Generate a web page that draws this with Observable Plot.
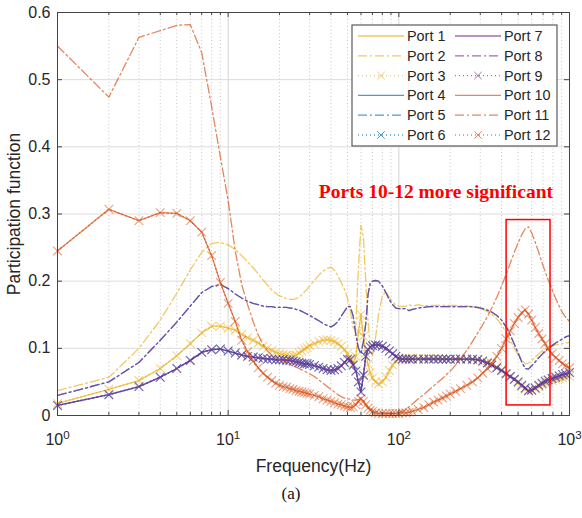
<!DOCTYPE html>
<html><head><meta charset="utf-8">
<script src="https://cdn.jsdelivr.net/npm/d3@7"></script>
<script src="https://cdn.jsdelivr.net/npm/@observablehq/plot@0.6"></script>
<style>
body{margin:0;background:#fff;}
#chart{width:582px;height:480px;}
#caption{width:582px;text-align:center;font-family:"Liberation Serif","Times New Roman",serif;font-size:17px;color:#111;margin-top:4px;}
</style></head><body>
<div id="chart"></div><div id="caption">(a)</div>
<script>
// ---------- data ----------
const freq = [
  1,2,3,4,5,6,7,8,9,10,
  11,12,13,14,15,16,17,18,19,20,
  21,22,23,24,25,26,27,28,29,30,
  32,34,36,38,40,42,44,46,48,50,
  52,54,56,58,60,62,64,66,68,70,
  73,76,80,84,88,92,96,100,105,110,
  115,120,130,140,150,160,170,180,190,200,
  215,230,250,270,290,310,330,350,375,400,
  425,450,475,500,525,550,575,600,630,660,
  690,720,750,790,830,870,910,950,1000];

// Port 1 / Port 3 (yellow, solid and crosses)
const yellowSolid = [
  0.018,0.039,0.052,0.070,0.089,0.107,0.123,0.133,0.133,0.130,
  0.127,0.121,0.116,0.112,0.108,0.103,0.100,0.097,0.094,0.092,
  0.091,0.090,0.089,0.089,0.090,0.093,0.096,0.099,0.101,0.104,
  0.107,0.110,0.112,0.113,0.112,0.110,0.107,0.103,0.098,0.092,
  0.085,0.077,0.088,0.125,0.150,0.118,0.093,0.076,0.064,0.056,
  0.050,0.047,0.050,0.057,0.067,0.075,0.081,0.084,0.085,0.085,
  0.085,0.085,0.085,0.085,0.085,0.085,0.085,0.084,0.084,0.084,
  0.084,0.084,0.084,0.083,0.083,0.081,0.079,0.076,0.072,0.068,
  0.063,0.058,0.053,0.048,0.043,0.039,0.036,0.037,0.040,0.043,
  0.046,0.048,0.050,0.052,0.054,0.055,0.056,0.057,0.058];

// Port 2 (yellow, dash-dot)
const yellowDashDot = [
  0.037,0.057,0.100,0.142,0.182,0.217,0.243,0.256,0.258,0.254,
  0.247,0.238,0.229,0.220,0.211,0.202,0.194,0.187,0.182,0.178,
  0.176,0.174,0.173,0.173,0.174,0.176,0.180,0.184,0.188,0.193,
  0.201,0.209,0.215,0.219,0.221,0.216,0.208,0.198,0.188,0.175,
  0.155,0.130,0.135,0.220,0.283,0.265,0.200,0.140,0.100,0.088,
  0.115,0.150,0.178,0.184,0.176,0.168,0.165,0.163,0.162,0.163,
  0.165,0.163,0.165,0.163,0.164,0.164,0.164,0.164,0.164,0.164,
  0.164,0.163,0.163,0.162,0.160,0.158,0.155,0.151,0.144,0.135,
  0.124,0.112,0.100,0.090,0.082,0.077,0.078,0.082,0.087,0.092,
  0.096,0.099,0.101,0.103,0.105,0.106,0.107,0.108,0.109];

// Ports 4, 6, 7, 9 (blue / purple, solid and crosses)
const purpleSolid = [
  0.015,0.031,0.043,0.057,0.070,0.082,0.094,0.098,0.099,0.096,
  0.093,0.090,0.088,0.087,0.086,0.085,0.084,0.084,0.083,0.083,
  0.083,0.082,0.082,0.081,0.080,0.079,0.078,0.077,0.077,0.076,
  0.074,0.072,0.070,0.068,0.067,0.068,0.070,0.074,0.079,0.084,
  0.083,0.075,0.066,0.050,0.035,0.060,0.088,0.098,0.102,0.104,
  0.105,0.105,0.103,0.100,0.096,0.092,0.088,0.085,0.084,0.084,
  0.084,0.084,0.084,0.084,0.084,0.084,0.084,0.084,0.084,0.084,
  0.084,0.084,0.084,0.084,0.083,0.081,0.078,0.075,0.071,0.067,
  0.062,0.058,0.054,0.050,0.045,0.041,0.037,0.038,0.041,0.045,
  0.048,0.051,0.053,0.055,0.057,0.059,0.061,0.062,0.064];

// Ports 5, 8 (blue / purple, dash-dot)
const purpleDashDot = [
  0.030,0.050,0.079,0.112,0.139,0.163,0.183,0.192,0.195,0.189,
  0.181,0.175,0.170,0.167,0.165,0.163,0.162,0.162,0.161,0.161,
  0.161,0.161,0.160,0.160,0.158,0.157,0.155,0.153,0.151,0.149,
  0.145,0.141,0.137,0.134,0.132,0.135,0.140,0.148,0.155,0.162,
  0.162,0.148,0.120,0.100,0.092,0.110,0.137,0.180,0.197,0.200,
  0.201,0.200,0.193,0.183,0.172,0.165,0.160,0.159,0.159,0.159,
  0.156,0.158,0.160,0.161,0.162,0.162,0.162,0.162,0.162,0.162,
  0.162,0.162,0.162,0.162,0.161,0.159,0.157,0.154,0.149,0.142,
  0.132,0.120,0.106,0.093,0.080,0.070,0.069,0.074,0.080,0.086,
  0.091,0.096,0.100,0.104,0.108,0.111,0.114,0.117,0.119];

// Ports 10 / 12 (orange, solid and crosses)
const orangeSolid = [
  0.245,0.307,0.290,0.302,0.301,0.290,0.273,0.238,0.198,0.167,
  0.140,0.112,0.095,0.081,0.071,0.063,0.057,0.052,0.048,0.045,
  0.043,0.042,0.040,0.039,0.037,0.036,0.035,0.034,0.033,0.032,
  0.030,0.028,0.025,0.023,0.021,0.019,0.017,0.016,0.014,0.013,
  0.012,0.013,0.016,0.021,0.025,0.021,0.016,0.011,0.008,0.006,
  0.004,0.003,0.003,0.003,0.003,0.003,0.003,0.003,0.004,0.004,
  0.005,0.006,0.009,0.012,0.016,0.020,0.023,0.026,0.029,0.032,
  0.036,0.040,0.045,0.050,0.056,0.063,0.070,0.078,0.088,0.100,
  0.114,0.126,0.137,0.146,0.153,0.157,0.151,0.142,0.131,0.122,
  0.114,0.107,0.099,0.092,0.086,0.082,0.077,0.074,0.071];

// Port 11 (orange, dash-dot)
const orangeDashDot = [
  0.550,0.474,0.563,0.573,0.581,0.582,0.540,0.460,0.385,0.320,
  0.245,0.195,0.165,0.140,0.120,0.106,0.096,0.090,0.086,0.083,
  0.080,0.078,0.076,0.074,0.072,0.070,0.068,0.066,0.064,0.062,
  0.058,0.053,0.048,0.043,0.039,0.035,0.031,0.028,0.026,0.025,
  0.024,0.023,0.023,0.024,0.026,0.022,0.017,0.013,0.010,0.008,
  0.006,0.005,0.004,0.003,0.003,0.003,0.003,0.004,0.006,0.009,
  0.013,0.017,0.025,0.031,0.038,0.044,0.050,0.055,0.061,0.066,
  0.075,0.085,0.097,0.110,0.123,0.135,0.147,0.160,0.176,0.193,
  0.210,0.227,0.243,0.257,0.269,0.278,0.281,0.272,0.258,0.243,
  0.228,0.214,0.202,0.188,0.174,0.163,0.153,0.146,0.140];

const portNames = ["Port 1","Port 2","Port 3","Port 4","Port 5","Port 6",
                   "Port 7","Port 8","Port 9","Port 10","Port 11","Port 12"];
const portValues = [yellowSolid, yellowDashDot, yellowSolid,
                    purpleSolid, purpleDashDot, purpleSolid,
                    purpleSolid, purpleDashDot, purpleSolid,
                    orangeSolid, orangeDashDot, orangeSolid];
const yTicks = [0, 0.1, 0.2, 0.3, 0.4, 0.5, 0.6];
const xTicks = [1, 10, 100, 1000];
const xTickExponents = ["0", "1", "2", "3"];
const minorMultipliers = [2, 3, 4, 5, 6, 7, 8, 9];
const annotation = [{f: 165, v: 0.333, label: "Ports 10-12 more significant"}];
const highlight = [{f1: 428, f2: 774, v1: 0.015, v2: 0.291}];

// ---------- styles ----------
const groupColors = ["#EDB120", "#0072BD", "#7E2F8E", "#D95319"];
const kinds = ["solid", "dashdot", "cross"];
const dashFor = {solid: null, dashdot: "9,3,2,3", cross: "1,3"};
const lineOpacity = 0.7;

const rows = portNames.flatMap((name, i) =>
  freq.map((f, j) => ({port: name, idx: i, f, v: portValues[i][j]})));

const minorX = xTicks.slice(0, -1).flatMap(d => minorMultipliers.map(m => m * d));

const FW = 512, FH = 403;
const marks = [
  Plot.ruleX(minorX, {stroke: "#b8b8b8", strokeDasharray: "1,2.5", strokeWidth: 0.8}),
  Plot.ruleX(xTicks.slice(1, -1), {stroke: "#d4d4d4"}),
  Plot.ruleY(yTicks.slice(1, -1), {stroke: "#dcdcdc"})
];
portNames.forEach((name, i) => {
  const color = groupColors[Math.floor(i / 3)];
  const kind = kinds[i % 3];
  const data = rows.filter(d => d.idx === i);
  marks.push(Plot.line(data, {x: "f", y: "v", stroke: color, strokeWidth: 1.3,
    strokeOpacity: lineOpacity, strokeDasharray: dashFor[kind]}));
  if (kind === "cross") {
    marks.push(Plot.dot(data, {x: "f", y: "v", symbol: "times", r: 4,
      stroke: color, strokeOpacity: 0.55, strokeWidth: 1.1}));
  }
});
marks.push(
  Plot.rect(highlight, {x1: "f1", x2: "f2", y1: "v1", y2: "v2", fill: "none", stroke: "#ff0000", strokeWidth: 1.5}),
  Plot.text(annotation, {x: "f", y: "v", text: "label", fill: "#ff0000", fontWeight: "bold",
    fontFamily: "Liberation Serif, Times New Roman, serif", fontSize: 19.5}),
  // inward ticks
  Plot.ruleX(xTicks, {insetTop: FH - 5, stroke: "#444"}),
  Plot.ruleX(xTicks, {insetBottom: FH - 5, stroke: "#444"}),
  Plot.ruleX(minorX, {insetTop: FH - 3, stroke: "#444"}),
  Plot.ruleX(minorX, {insetBottom: FH - 3, stroke: "#444"}),
  Plot.ruleY(yTicks, {insetRight: FW - 5, stroke: "#444"}),
  Plot.ruleY(yTicks, {insetLeft: FW - 5, stroke: "#444"}),
  Plot.frame({stroke: "#444", strokeWidth: 1}),
  Plot.axisX({ticks: xTicks, tickSize: 0, tickPadding: 18, fontSize: 16, label: null,
    tickFormat: d => "10^" + xTickExponents[xTicks.indexOf(d)]}),
  Plot.axisY({ticks: yTicks, tickSize: 0, tickPadding: 7, fontSize: 16, label: null,
    tickFormat: d => d === 0 ? "0" : d.toFixed(1)}),
  Plot.text(["Frequency(Hz)"], {text: d => d, frameAnchor: "bottom", lineAnchor: "middle", dy: 51, fontSize: 17.5, fill: "#262626"}),
  Plot.text(["Participation function"], {text: d => d, frameAnchor: "left", textAnchor: "middle", lineAnchor: "middle", dx: -43, rotate: -90, fontSize: 17.5, fill: "#262626"})
);

const chart = Plot.plot({
  width: 582, height: 480,
  marginTop: 12, marginRight: 13, marginBottom: 65, marginLeft: 57,
  style: {fontFamily: "Liberation Sans, Arial, sans-serif", color: "#262626", background: "white", overflow: "visible"},
  x: {type: "log", domain: [1, 1000], axis: null},
  y: {domain: [0, 0.6], axis: null},
  marks
});
document.getElementById("chart").appendChild(chart);

// superscript exponents on the x tick labels
d3.select(chart).selectAll('g[aria-label="x-axis tick label"] text').each(function () {
  const t = d3.select(this);
  const [b, e] = t.text().split("^");
  t.text(null);
  t.append("tspan").text(b);
  t.append("tspan").attr("dy", "-0.55em").attr("font-size", "0.72em").text(e);
});

// legend
const lg = d3.select(chart).append("g")
  .attr("font-family", "Liberation Sans, Arial, sans-serif").attr("font-size", 14.4)
  .attr("fill", "#262626").attr("text-anchor", "start");
lg.append("rect").attr("x", 352).attr("y", 25).attr("width", 205).attr("height", 121)
  .attr("fill", "white").attr("stroke", "#5a5a5a").attr("stroke-width", 1.2);
portNames.forEach((name, i) => {
  const col = Math.floor(i / 6), row = i % 6;
  const y = 36 + row * 19.8;
  const x0 = col ? 455 : 358;
  const color = groupColors[Math.floor(i / 3)];
  const kind = kinds[i % 3];
  lg.append("line").attr("x1", x0).attr("x2", x0 + 46).attr("y1", y).attr("y2", y)
    .attr("stroke", color).attr("stroke-opacity", lineOpacity).attr("stroke-width", 1.3)
    .attr("stroke-dasharray", dashFor[kind]);
  if (kind === "cross") {
    lg.append("path").attr("d", d3.symbol(d3.symbolTimes, Math.PI * 3.5 * 3.5)())
      .attr("transform", `translate(${x0 + 23},${y})`)
      .attr("fill", "none").attr("stroke", color).attr("stroke-opacity", 0.7);
  }
  lg.append("text").attr("x", x0 + 49).attr("y", y).attr("dy", "0.35em").text(name);
});
</script>
</body></html>
